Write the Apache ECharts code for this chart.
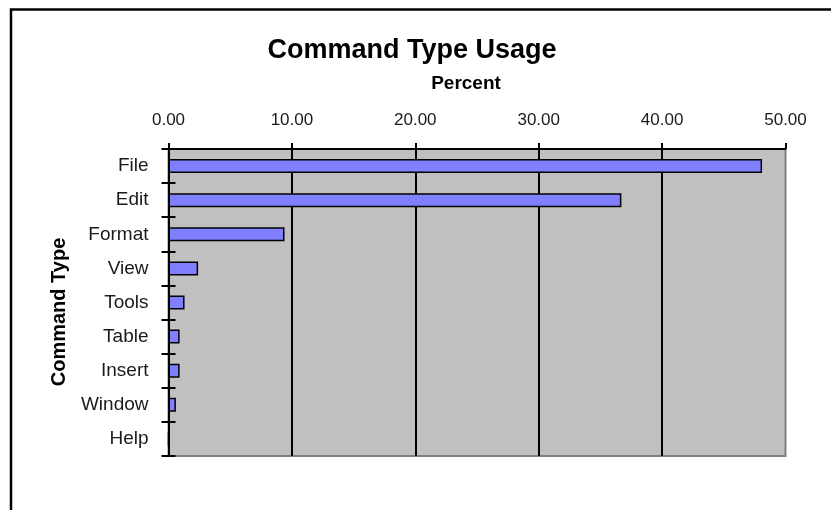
<!DOCTYPE html>
<html>
<head>
<meta charset="utf-8">
<script src="https://cdn.jsdelivr.net/npm/echarts@6/dist/echarts.min.js"></script>
<style>
html,body{margin:0;padding:0;background:#fff;}
#chart{width:831px;height:510px;}
</style>
</head>
<body>
<div id="chart"></div>
<script>
var categories = ['File','Edit','Format','View','Tools','Table','Insert','Window','Help'];
var percentValues = [48.1, 36.7, 9.4, 2.4, 1.3, 0.9, 0.9, 0.6, 0];
var tickValues = [0, 10, 20, 30, 40, 50];

var FONT = '"Liberation Sans", Arial, sans-serif';
var chart = echarts.init(document.getElementById('chart'), null, {renderer:'canvas'});
chart.setOption({
  animation: false,
  backgroundColor: '#ffffff',
  graphic: [
    {type:'rect', shape:{x:11, y:9.5, width:900, height:700}, style:{fill:'none', stroke:'#000', lineWidth:2.5}, z:-1},
    {type:'text', x:412, y:51, style:{text:'Command Type Usage', font:'bold 27px ' + FONT, fill:'#000', textAlign:'center', textVerticalAlign:'middle'}},
    {type:'text', x:466, y:84, style:{text:'Percent', font:'bold 19px ' + FONT, fill:'#000', textAlign:'center', textVerticalAlign:'middle'}},
    {type:'text', x:59, y:312, rotation:Math.PI/2, style:{text:'Command Type', font:'bold 20px ' + FONT, fill:'#000', textAlign:'center', textVerticalAlign:'middle'}}
  ],
  grid: {
    left: 168.5, top: 149, right: 45.5, bottom: 54,
    show: true, backgroundColor: '#c0c0c0', borderColor: '#808080', borderWidth: 2
  },
  xAxis: {
    type: 'value', position: 'top', min: 0, max: 50, interval: 10,
    axisLine: {show: true, lineStyle: {color: '#000', width: 2}},
    axisTick: {show: true, length: 6, lineStyle: {color: '#000', width: 2}},
    axisLabel: {
      margin: 20, color: '#1a1a1a', fontSize: 17, fontFamily: FONT,
      customValues: tickValues,
      formatter: function(v){ return v.toFixed(2); }
    },
    splitLine: {show: true, showMinLine: false, showMaxLine: false, lineStyle: {color: '#000', width: 2}}
  },
  yAxis: [
    {
      type: 'category', data: categories, inverse: true, position: 'left',
      axisLine: {show: true, lineStyle: {color: '#000', width: 2}},
      axisTick: {show: true, length: 7, lineStyle: {color: '#000', width: 2}},
      axisLabel: {margin: 20, color: '#1a1a1a', fontSize: 19, fontFamily: FONT},
      splitLine: {show: false}
    },
    {
      type: 'category', data: categories, inverse: true, position: 'left',
      axisLine: {show: false},
      axisTick: {show: true, inside: true, length: 7, lineStyle: {color: '#000', width: 2}},
      axisLabel: {show: false},
      splitLine: {show: false}
    }
  ],
  series: [{
    type: 'bar', data: percentValues, yAxisIndex: 0, barWidth: 14,
    itemStyle: {color: '#8080ff', borderColor: '#000', borderWidth: 1.5},
    z: 1
  }]
});
</script>
</body>
</html>
